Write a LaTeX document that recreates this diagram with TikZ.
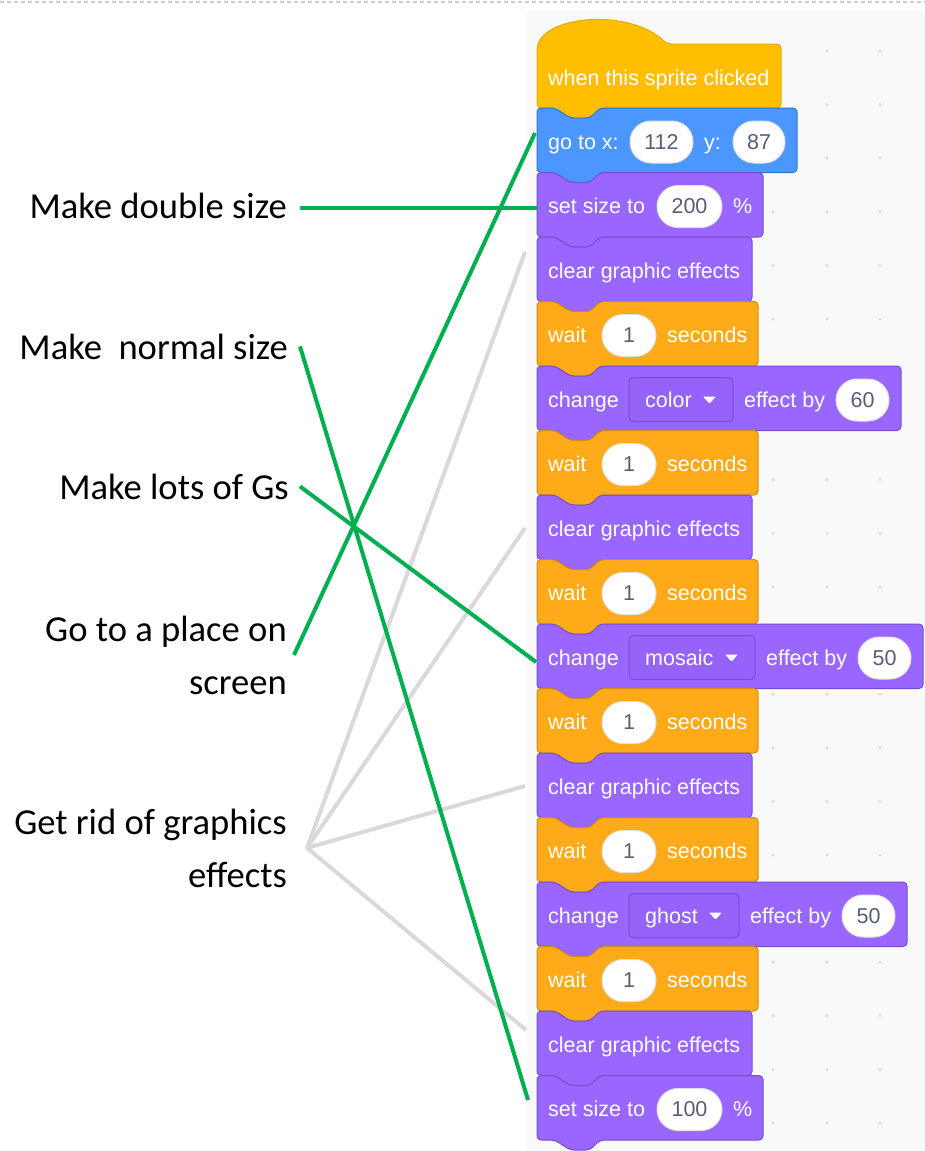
\documentclass[tikz,border=0pt]{standalone}
\usepackage{fontspec}
\setmainfont{Carlito}
\newfontfamily\blockfont{Liberation Sans}
\usetikzlibrary{shapes.misc}

\definecolor{eventsyellow}{HTML}{FFBF00}
\definecolor{eventsborder}{HTML}{E6AC00}
\definecolor{motionblue}{HTML}{4C97FF}
\definecolor{motionborder}{HTML}{3373CC}
\definecolor{looksviolet}{HTML}{9966FF}
\definecolor{looksborder}{HTML}{774DCB}
\definecolor{controlorange}{HTML}{FFAB19}
\definecolor{controlborder}{HTML}{CF8B17}
\definecolor{inputtext}{HTML}{575E75}
\definecolor{matchgreen}{HTML}{00B050}
\definecolor{wronggray}{HTML}{D9D9D9}
\definecolor{panelgray}{HTML}{F9F9F9}
\definecolor{dotgray}{HTML}{D6D6D6}

% one stack block: top y, width, fill, border
\newcommand{\sblock}[4]{%
  \draw[fill=#3, draw=#4, line width=1pt, rounded corners=4pt]
    (537,#1) -- ++(18,0) -- ++(15,10) -- ++(20,0) -- ++(10,-10) -- (537+#2,#1)
    -- (537+#2,#1+64.5) -- (600,#1+64.5) -- ++(-10,10) -- ++(-20,0) -- ++(-15,-10)
    -- (537,#1+64.5) -- cycle;}

% wait 1 seconds
\newcommand{\waitblk}[2]{%
  \sblock{#2}{221}{controlorange}{controlborder}
  \node[btext] (#1-txt) at (548,#2+41) {wait};
  \node[oval, minimum width=54pt] (#1-in) at (629,#2+34) {1};
  \node[btext] (#1-unit) at (667,#2+41) {seconds};}

% clear graphic effects
\newcommand{\clearblk}[2]{%
  \sblock{#2}{215}{looksviolet}{looksborder}
  \node[btext] (#1-txt) at (548,#2+41) {clear graphic effects};}

% set size to ... %
\newcommand{\sizeblk}[3]{%
  \sblock{#2}{226}{looksviolet}{looksborder}
  \node[btext] (#1-txt) at (548,#2+41) {set size to};
  \node[oval, minimum width=65pt] (#1-in) at (689.5,#2+34) {#3};
  \node[btext] (#1-unit) at (733,#2+41) {\%};}

% change ... effect by ...: name, top, effect, dropdown width, value
\newcommand{\changeblk}[5]{%
  \pgfmathsetmacro{\dropright}{629+#4}
  \sblock{#2}{\dropright-369}{looksviolet}{looksborder}
  \node[btext] (#1-txt) at (548,#2+41) {change};
  \node[dropdown, minimum width=#4pt] (#1-drop) at (629+#4/2,#2+33.5) {};
  \node[btext] (#1-fx) at (645,#2+41) {#3};
  \fill[white, rounded corners=1pt] (\dropright-30,#2+30.5) -- ++(13,0) -- ++(-6.5,7) -- cycle;
  \node[btext] (#1-by) at (\dropright+11,#2+41) {effect by};
  \node[oval, minimum width=53pt] (#1-in) at (\dropright+129.5,#2+34) {#5};}

\begin{document}
\begin{tikzpicture}[x=1pt, y=-1pt,
% STYLES
btext/.style={anchor=base west, inner sep=0pt, text=white, font=\blockfont\fontsize{21.5}{24}\selectfont},
oval/.style={rounded rectangle, fill=white, draw=black!12, line width=1pt, inner xsep=0pt, inner ysep=0pt, minimum height=42pt, text=inputtext, font=\blockfont\fontsize{21.5}{24}\selectfont},
dropdown/.style={rectangle, draw=looksborder, fill=looksviolet!88!looksborder, line width=1pt, rounded corners=4pt, minimum height=44pt, inner sep=0pt},
tasktext/.style={inner sep=0pt, align=right, font=\fontsize{36.6}{53}\selectfont},
match/.style={matchgreen, line width=4pt},
nomatch/.style={wronggray, line width=4pt}]

\useasboundingbox (0,0) rectangle (925,1151);

% Scratch editor area
\fill[panelgray] (527,10) rectangle (925,1151);
\draw[black!20, line width=1.5pt, dash pattern=on 4pt off 3pt] (0,2) -- (925,2);
\foreach \dx in {773,827,880}
  \foreach \k in {0,...,20}
    \fill[dotgray] (\dx,51+53.6*\k) circle (1.6pt);

% Tasks (base = last line)
\node[tasktext, anchor=base east] (dbl) at (287,218) {Make double size};
\node[tasktext, anchor=base east] (nrm) at (288,359) {Make\ \ normal size};
\node[tasktext, anchor=base east] (lots) at (289,499) {Make lots of Gs};
\node[tasktext, anchor=base east] (goto) at (287,694) {Go to a place on\\screen};
\node[tasktext, anchor=base east] (gfx) at (287,887) {Get rid of graphics\\effects};

% Script
\draw[fill=eventsyellow, draw=eventsborder, line width=1pt, rounded corners=4pt]
  (537,108) -- (537,46) .. controls (552,14) and (632,10) .. (667,44) -- (781,44) -- (781,108)
  -- (600,108) -- ++(-10,10) -- ++(-20,0) -- ++(-15,-10) -- cycle;
\node[btext] (hat-txt) at (548,85) {when this sprite clicked};

\sblock{108}{260}{motionblue}{motionborder}
\node[btext] (go-txt) at (548,149) {go to x:};
\node[oval, minimum width=63pt] (go-x) at (661.5,142) {112};
\node[btext] (go-y) at (704,149) {y:};
\node[oval, minimum width=52pt] (go-yin) at (759,142) {87};

\sizeblk{size1}{172.5}{200}
\clearblk{clear1}{237}
\waitblk{wait1}{301.5}
\changeblk{color}{366}{color}{104}{60}
\waitblk{wait2}{430.5}
\clearblk{clear2}{495}
\waitblk{wait3}{559.5}
\changeblk{mosaic}{624}{mosaic}{126}{50}
\waitblk{wait4}{688.5}
\clearblk{clear3}{753}
\waitblk{wait5}{817.5}
\changeblk{ghost}{882}{ghost}{110}{50}
\waitblk{wait6}{946.5}
\clearblk{clear4}{1011}
\sizeblk{size2}{1075.5}{100}

% connector ends
\coordinate (goto-end) at (535,133);
\coordinate (size200-end) at (537,208);
\coordinate (mosaic-end) at (536,662);
\coordinate (size100-end) at (528,1100);
\coordinate (clr1) at (525,252);
\coordinate (clr2) at (525,528);
\coordinate (clr3) at (525,786);
\coordinate (clr4) at (526,1030);

% wrong answers
\foreach \c in {clr1,clr2,clr3,clr4}
  \draw[nomatch] ([xshift=20pt]gfx.east) -- (\c);

% right answers
\draw[match] ([xshift=13pt]dbl.east |- size200-end) -- (size200-end);
\draw[match] ([xshift=12pt]nrm.east) -- (size100-end);
\draw[match] ([xshift=11pt]lots.east) -- (mosaic-end);
\draw[match] ([xshift=7pt]goto.east) -- (goto-end);

\end{tikzpicture}
\end{document}
